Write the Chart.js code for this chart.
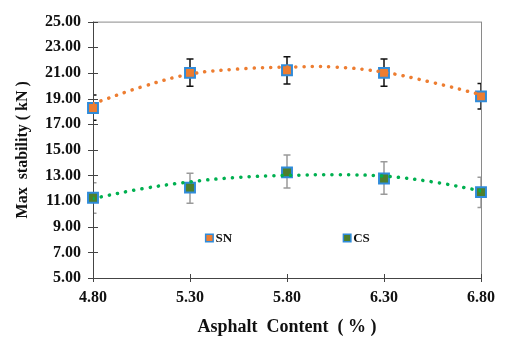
<!DOCTYPE html>
<html>
<head>
<meta charset="utf-8">
<script src="https://cdn.jsdelivr.net/npm/chart.js@4"></script>
<style>
  body { margin: 0; background: #fff; }
  canvas { display: block; }
</style>
</head>
<body>
<canvas id="chart" width="505" height="340"></canvas>
<script>
const asphalt = [4.8, 5.3, 5.8, 6.3, 6.8];
const yTicks = [5, 7, 9, 11, 13, 15, 17, 19, 21, 23, 25];

const snStability = [18.26, 21.0, 21.2, 21.0, 19.17];
const snHigh = [19.27, 22.08, 22.25, 22.08, 20.17];
const snLow = [17.31, 19.96, 20.14, 19.96, 18.18];

const csStability = [11.26, 12.05, 13.24, 12.76, 11.7];
const csHigh = [12.43, 13.17, 14.6, 14.06, 12.86];
const csLow = [10.06, 10.83, 12.02, 11.54, 10.5];

// dotted trend curves
const trendX = [4.8, 5.05, 5.3, 5.55, 5.8, 6.05, 6.3, 6.55, 6.8];
const snTrend = [18.6, 19.9, 20.9, 21.3, 21.45, 21.45, 21.05, 20.25, 19.3];
const csTrend = [11.2, 11.95, 12.5, 12.85, 13.0, 13.05, 12.95, 12.5, 11.8];

const serif = "'Liberation Serif', 'Times New Roman', serif";
const orange = "#ED7D31";
const green = "#00B050";
const darkGreen = "#4E7F2C";
const blue = "#2F8BDA";

const pts = (xs, ys) => xs.map((x, i) => ({ x: x, y: ys[i] }));

const extras = {
  id: "extras",
  beforeDatasetsDraw(chart) {
    const ctx = chart.ctx;
    const a = chart.chartArea;
    const x = chart.scales.x;
    const y = chart.scales.y;
    ctx.save();
    ctx.beginPath();
    ctx.rect(a.left, a.top, a.right - a.left, a.bottom - a.top);
    ctx.clip();
    const bars = [[snHigh, snLow, "#111"], [csHigh, csLow, "#9a9a9a"]];
    bars.forEach(([hi, lo, col]) => {
      ctx.strokeStyle = col;
      ctx.lineWidth = 1.5;
      asphalt.forEach((v, i) => {
        const px = x.getPixelForValue(v);
        const top = y.getPixelForValue(hi[i]);
        const bot = y.getPixelForValue(lo[i]);
        ctx.beginPath();
        ctx.moveTo(px, top); ctx.lineTo(px, bot);
        ctx.moveTo(px - 3.5, top); ctx.lineTo(px + 3.5, top);
        ctx.moveTo(px - 3.5, bot); ctx.lineTo(px + 3.5, bot);
        ctx.stroke();
      });
    });
    ctx.restore();

    // frame and crossing ticks
    ctx.save();
    ctx.lineWidth = 1;
    ctx.strokeStyle = "#8a8a8a";
    ctx.beginPath();
    ctx.moveTo(a.left, a.top + 0.5); ctx.lineTo(a.right, a.top + 0.5);
    ctx.moveTo(a.right + 0.5, a.top); ctx.lineTo(a.right + 0.5, a.bottom);
    ctx.stroke();
    ctx.strokeStyle = "#444";
    ctx.beginPath();
    ctx.moveTo(a.left + 0.5, a.top); ctx.lineTo(a.left + 0.5, a.bottom);
    ctx.moveTo(a.left, a.bottom + 0.5); ctx.lineTo(a.right, a.bottom + 0.5);
    yTicks.forEach(v => {
      const py = Math.round(y.getPixelForValue(v)) + 0.5;
      ctx.moveTo(a.left - 5, py); ctx.lineTo(a.left + 5, py);
    });
    asphalt.forEach(v => {
      const px = Math.round(x.getPixelForValue(v)) + 0.5;
      ctx.moveTo(px, a.bottom - 4); ctx.lineTo(px, a.bottom + 4);
    });
    ctx.stroke();
    ctx.restore();
  },
  afterDraw(chart) {
    const ctx = chart.ctx;
    const a = chart.chartArea;
    const items = [["SN", orange, 0.30], ["CS", darkGreen, 0.655]];
    ctx.save();
    ctx.font = "bold 13px " + serif;
    ctx.textBaseline = "middle";
    items.forEach(([label, fill, fx]) => {
      const lx = a.left + (a.right - a.left) * fx;
      const ly = 238;
      ctx.fillStyle = blue;
      ctx.fillRect(lx - 4.5, ly - 4.5, 9, 9);
      ctx.fillStyle = fill;
      ctx.fillRect(lx - 3, ly - 3, 6, 6);
      ctx.fillStyle = "#111";
      ctx.fillText(label, lx + 6, ly + 1);
    });
    ctx.restore();
  }
};

new Chart(document.getElementById("chart"), {
  type: "line",
  data: {
    datasets: [
      {
        label: "SN trend",
        data: pts(trendX, snTrend),
        borderColor: orange,
        borderWidth: 3.5,
        borderDash: [0.1, 8.2],
        borderCapStyle: "round",
        pointRadius: 0,
        tension: 0.4,
        fill: false
      },
      {
        label: "CS trend",
        data: pts(trendX, csTrend),
        borderColor: green,
        borderWidth: 3.5,
        borderDash: [0.1, 8.2],
        borderCapStyle: "round",
        pointRadius: 0,
        tension: 0.4,
        fill: false
      },
      {
        label: "SN",
        data: pts(asphalt, snStability),
        showLine: false,
        pointStyle: "rect",
        pointRadius: 7,
        pointBackgroundColor: orange,
        pointBorderColor: blue,
        pointBorderWidth: 2,
        clip: false
      },
      {
        label: "CS",
        data: pts(asphalt, csStability),
        showLine: false,
        pointStyle: "rect",
        pointRadius: 7,
        pointBackgroundColor: darkGreen,
        pointBorderColor: blue,
        pointBorderWidth: 2,
        clip: false
      }
    ]
  },
  options: {
    responsive: false,
    animation: false,
    devicePixelRatio: 1,
    layout: { padding: { top: 16, right: 14, left: 0, bottom: 0 } },
    plugins: {
      legend: { display: false },
      tooltip: { enabled: false }
    },
    scales: {
      x: {
        type: "linear",
        min: 4.8,
        max: 6.8,
        afterBuildTicks: scale => { scale.ticks = asphalt.map(v => ({ value: v })); },
        afterFit: scale => { scale.height = 62; },
        grid: { display: false, drawTicks: false },
        border: { display: false },
        ticks: {
          padding: 10,
          color: "#111",
          maxRotation: 0,
          font: { family: serif, size: 16, weight: "bold" },
          callback: v => v.toFixed(2)
        },
        title: {
          display: true,
          text: "Asphalt  Content  ( % )",
          color: "#111",
          padding: { top: 0, bottom: 2 },
          font: { family: serif, size: 18, weight: "bold" }
        }
      },
      y: {
        min: 5,
        max: 25,
        afterBuildTicks: scale => { scale.ticks = yTicks.map(v => ({ value: v })); },
        afterFit: scale => { scale.width = 93; },
        grid: { display: false, drawTicks: false },
        border: { display: false },
        ticks: {
          padding: 12,
          color: "#111",
          font: { family: serif, size: 16, weight: "bold" },
          callback: v => v.toFixed(2)
        },
        title: {
          display: true,
          text: "Max  stability ( kN )",
          color: "#111",
          padding: { top: 13, bottom: 0 },
          font: { family: serif, size: 16, weight: "bold" }
        }
      }
    }
  },
  plugins: [extras]
});
</script>
</body>
</html>
